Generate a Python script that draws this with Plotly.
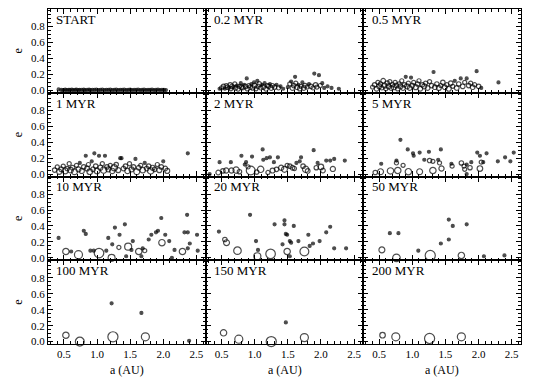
import plotly.graph_objects as go
from plotly.subplots import make_subplots

# ---------------- data (a in AU, e, mass in Earth masses) ----------------
a_start = [0.42, 0.46, 0.49, 0.52, 0.54, 0.57, 0.59, 0.62, 0.64, 0.67, 0.69, 0.72, 0.74, 0.77, 0.80,
           0.82, 0.85, 0.88, 0.90, 0.93, 0.96, 0.99, 1.02, 1.05, 1.08, 1.11, 1.14, 1.17, 1.20, 1.23,
           1.26, 1.29, 1.32, 1.35, 1.38, 1.41, 1.44, 1.47, 1.50, 1.53, 1.56, 1.59, 1.62, 1.65, 1.68,
           1.71, 1.74, 1.77, 1.80, 1.83, 1.86, 1.89, 1.92, 1.95, 1.98, 2.01, 2.04]
e_start = [0.012, 0.006, 0.004, 0.008, 0.003, 0.007, 0.005, 0.009, 0.004, 0.006, 0.008, 0.003, 0.007, 0.005, 0.009,
           0.004, 0.006, 0.008, 0.003, 0.007, 0.005, 0.009, 0.004, 0.006, 0.008, 0.003, 0.007, 0.005, 0.009, 0.004,
           0.006, 0.008, 0.003, 0.007, 0.005, 0.009, 0.004, 0.006, 0.008, 0.003, 0.007, 0.005, 0.009, 0.004, 0.006,
           0.008, 0.003, 0.007, 0.005, 0.009, 0.004, 0.006, 0.008, 0.003, 0.007, 0.005, 0.004]
m_start = [0.03] * len(a_start)

a_02 = [0.47, 0.50, 0.53, 0.55, 0.57, 0.59, 0.61, 0.63, 0.64, 0.66, 0.68, 0.70, 0.71, 0.73, 0.75, 0.77,
        0.79, 0.80, 0.82, 0.84, 0.86, 0.88, 0.89, 0.91, 0.93, 0.95, 0.97, 0.99, 1.00, 1.02, 1.04, 1.05,
        1.07, 1.09, 1.11, 1.13, 1.15, 1.17, 1.19, 1.21, 1.23, 1.25, 1.27, 1.30, 1.33, 1.36, 1.39, 1.43,
        1.50, 1.53, 1.55, 1.57, 1.59, 1.61, 1.62, 1.64, 1.66, 1.68, 1.70, 1.72, 1.74, 1.76, 1.79, 1.82,
        1.85, 1.88, 1.90, 1.92, 1.94, 1.97, 1.99, 2.02, 2.05, 2.10, 2.16, 2.27]
e_02 = [0.02, 0.03, 0.05, 0.02, 0.06, 0.04, 0.03, 0.07, 0.02, 0.05, 0.04, 0.08, 0.03, 0.06, 0.02, 0.05,
        0.09, 0.04, 0.03, 0.07, 0.05, 0.15, 0.02, 0.06, 0.04, 0.08, 0.03, 0.10, 0.06, 0.02, 0.12, 0.05,
        0.08, 0.03, 0.07, 0.04, 0.09, 0.02, 0.06, 0.05, 0.08, 0.03, 0.06, 0.04, 0.07, 0.03, 0.05, 0.02,
        0.04, 0.08, 0.11, 0.03, 0.06, 0.17, 0.09, 0.04, 0.07, 0.02, 0.05, 0.10, 0.03, 0.06, 0.04, 0.08,
        0.05, 0.03, 0.21, 0.07, 0.04, 0.19, 0.06, 0.09, 0.03, 0.05, 0.03, 0.02]
m_02 = [0.03, 0.04, 0.05, 0.03, 0.04, 0.06, 0.03, 0.05, 0.04, 0.06, 0.03, 0.04, 0.05, 0.03, 0.06, 0.04,
        0.03, 0.05, 0.04, 0.03, 0.06, 0.02, 0.05, 0.04, 0.06, 0.03, 0.05, 0.03, 0.06, 0.04, 0.03, 0.05,
        0.06, 0.04, 0.03, 0.05, 0.03, 0.06, 0.04, 0.05, 0.03, 0.06, 0.04, 0.05, 0.03, 0.04, 0.03, 0.02,
        0.03, 0.04, 0.03, 0.06, 0.05, 0.03, 0.04, 0.06, 0.03, 0.05, 0.04, 0.03, 0.06, 0.05, 0.04, 0.03,
        0.05, 0.04, 0.02, 0.05, 0.04, 0.03, 0.04, 0.03, 0.02, 0.02, 0.02, 0.02]

a_05 = [0.40, 0.43, 0.46, 0.48, 0.50, 0.52, 0.54, 0.56, 0.58, 0.60, 0.62, 0.64, 0.66, 0.68, 0.70, 0.72,
        0.74, 0.76, 0.78, 0.80, 0.82, 0.84, 0.86, 0.88, 0.90, 0.92, 0.94, 0.96, 0.98, 1.00, 1.02, 1.05,
        1.08, 1.10, 1.12, 1.15, 1.18, 1.20, 1.23, 1.26, 1.29, 1.32, 1.34, 1.37, 1.40, 1.43, 1.46, 1.49,
        1.52, 1.55, 1.58, 1.61, 1.64, 1.67, 1.70, 1.73, 1.76, 1.79, 1.82, 1.85, 1.88, 1.91, 1.94, 1.97,
        2.00, 2.04, 2.30]
e_05 = [0.04, 0.07, 0.02, 0.10, 0.05, 0.08, 0.03, 0.12, 0.06, 0.02, 0.09, 0.05, 0.11, 0.03, 0.07, 0.04,
        0.10, 0.06, 0.02, 0.08, 0.05, 0.12, 0.03, 0.07, 0.17, 0.05, 0.09, 0.03, 0.16, 0.06, 0.10, 0.04,
        0.08, 0.12, 0.02, 0.07, 0.05, 0.09, 0.03, 0.11, 0.06, 0.23, 0.04, 0.08, 0.03, 0.06, 0.10, 0.04,
        0.07, 0.02, 0.09, 0.05, 0.12, 0.03, 0.08, 0.15, 0.05, 0.10, 0.15, 0.06, 0.09, 0.04, 0.07, 0.24,
        0.05, 0.03, 0.10]
m_05 = [0.04, 0.05, 0.06, 0.04, 0.07, 0.05, 0.04, 0.06, 0.08, 0.04, 0.05, 0.07, 0.04, 0.06, 0.05, 0.08,
        0.04, 0.06, 0.05, 0.04, 0.07, 0.04, 0.06, 0.05, 0.03, 0.07, 0.04, 0.06, 0.03, 0.05, 0.04, 0.07,
        0.05, 0.04, 0.06, 0.05, 0.07, 0.04, 0.06, 0.04, 0.05, 0.03, 0.06, 0.05, 0.07, 0.04, 0.05, 0.06,
        0.04, 0.07, 0.05, 0.04, 0.03, 0.06, 0.05, 0.03, 0.06, 0.04, 0.03, 0.05, 0.04, 0.06, 0.04, 0.03,
        0.05, 0.03, 0.02]

a_1 = [0.36, 0.40, 0.43, 0.46, 0.49, 0.52, 0.55, 0.58, 0.60, 0.63, 0.66, 0.69, 0.72, 0.74, 0.77, 0.80,
       0.83, 0.85, 0.87, 0.89, 0.92, 0.94, 0.96, 0.98, 1.00, 1.03, 1.05, 1.08, 1.10, 1.12, 1.15, 1.17,
       1.20, 1.23, 1.26, 1.29, 1.32, 1.35, 1.37, 1.40, 1.43, 1.46, 1.49, 1.52, 1.55, 1.58, 1.60, 1.63,
       1.66, 1.69, 1.72, 1.75, 1.78, 1.81, 1.84, 1.87, 1.91, 1.94, 1.97, 2.00, 2.03, 2.06, 2.37]
e_1 = [0.05, 0.09, 0.03, 0.06, 0.10, 0.04, 0.07, 0.13, 0.05, 0.08, 0.03, 0.11, 0.06, 0.14, 0.04, 0.09,
       0.23, 0.07, 0.12, 0.03, 0.16, 0.06, 0.26, 0.10, 0.04, 0.23, 0.08, 0.13, 0.05, 0.23, 0.09, 0.06,
       0.11, 0.04, 0.08, 0.12, 0.05, 0.20, 0.20, 0.07, 0.10, 0.04, 0.13, 0.06, 0.09, 0.19, 0.03, 0.08,
       0.11, 0.05, 0.14, 0.07, 0.10, 0.04, 0.08, 0.06, 0.12, 0.05, 0.09, 0.16, 0.07, 0.04, 0.26]
m_1 = [0.05, 0.04, 0.08, 0.06, 0.04, 0.12, 0.05, 0.04, 0.10, 0.06, 0.12, 0.04, 0.07, 0.03, 0.08, 0.05,
       0.03, 0.07, 0.04, 0.10, 0.03, 0.06, 0.03, 0.05, 0.12, 0.03, 0.08, 0.04, 0.15, 0.03, 0.05, 0.07,
       0.04, 0.09, 0.15, 0.05, 0.08, 0.03, 0.03, 0.06, 0.05, 0.09, 0.04, 0.07, 0.05, 0.03, 0.12, 0.06,
       0.04, 0.10, 0.03, 0.06, 0.05, 0.15, 0.07, 0.05, 0.04, 0.08, 0.05, 0.03, 0.06, 0.07, 0.02]

a_2 = [0.32, 0.45, 0.47, 0.52, 0.57, 0.64, 0.65, 0.72, 0.77, 0.80, 0.85, 0.87, 0.90, 0.94, 0.96, 1.03,
       1.09, 1.12, 1.13, 1.18, 1.23, 1.29, 1.35, 1.20, 1.27, 1.33, 1.40, 1.45, 1.49, 1.53, 1.57, 1.60,
       1.63, 1.68, 1.70, 1.73, 1.77, 1.80, 1.89, 1.93, 1.95, 2.00, 2.03, 2.08, 2.14, 2.18, 2.20, 2.36]
e_2 = [0.00, 0.02, 0.15, 0.04, 0.045, 0.15, 0.045, 0.05, 0.03, 0.23, 0.12, 0.15, 0.09, 0.045, 0.22, 0.025,
       0.06, 0.31, 0.18, 0.20, 0.21, 0.15, 0.21, 0.02, 0.045, 0.06, 0.08, 0.06, 0.11, 0.10, 0.08, 0.07,
       0.14, 0.16, 0.21, 0.10, 0.06, 0.04, 0.30, 0.08, 0.14, 0.09, 0.045, 0.17, 0.17, 0.065, 0.19, 0.17]
m_2 = [0.02, 0.06, 0.02, 0.05, 0.08, 0.02, 0.08, 0.15, 0.05, 0.02, 0.03, 0.03, 0.04, 0.40, 0.02, 0.05,
       0.15, 0.02, 0.03, 0.03, 0.02, 0.03, 0.02, 0.04, 0.07, 0.05, 0.08, 0.12, 0.04, 0.05, 0.06, 0.04,
       0.03, 0.03, 0.02, 0.05, 0.15, 0.06, 0.02, 0.05, 0.03, 0.10, 0.06, 0.02, 0.02, 0.08, 0.02, 0.02]

a_5 = [0.82, 0.93, 1.01, 1.02, 1.11, 1.25, 1.43, 0.53, 0.76, 0.76, 0.86, 1.18, 1.26, 1.31, 1.39, 1.41,
       1.59, 1.60, 1.74, 1.78, 1.82, 1.87, 1.89, 1.79, 1.98, 2.12, 2.02, 2.04, 2.07, 2.29, 2.40, 2.48,
       2.53, 0.44, 0.52, 0.67, 0.78, 0.94, 1.11, 1.31, 1.44, 2.02, 1.82]
e_5 = [0.43, 0.31, 0.26, 0.23, 0.27, 0.28, 0.31, 0.13, 0.17, 0.14, 0.11, 0.18, 0.17, 0.16, 0.18, 0.14,
       0.13, 0.10, 0.14, 0.10, 0.12, 0.08, 0.15, 0.06, 0.27, 0.26, 0.23, 0.15, 0.15, 0.16, 0.21, 0.16,
       0.27, 0.02, 0.03, 0.04, 0.045, 0.03, 0.03, 0.045, 0.07, 0.07, 0.00]
m_5 = [0.02, 0.02, 0.02, 0.03, 0.02, 0.02, 0.02, 0.03, 0.03, 0.04, 0.04, 0.03, 0.05, 0.04, 0.03, 0.04,
       0.03, 0.04, 0.05, 0.04, 0.03, 0.05, 0.03, 0.04, 0.02, 0.02, 0.03, 0.04, 0.03, 0.02, 0.02, 0.02,
       0.02, 0.05, 0.12, 0.15, 0.15, 0.15, 0.12, 0.15, 0.08, 0.10, 0.02]

a_10 = [0.42, 0.80, 0.83, 0.53, 0.61, 0.72, 0.90, 0.95, 1.03, 1.14, 1.17, 1.22, 1.27, 1.34, 1.23, 1.33,
        1.42, 1.47, 1.44, 1.52, 1.54, 1.63, 1.69, 1.72, 1.67, 1.78, 1.82, 1.89, 1.92, 1.97, 1.98, 2.03,
        2.09, 2.17, 2.13, 2.29, 2.32, 2.37, 2.36, 2.40, 2.37, 2.51, 2.52]
e_10 = [0.25, 0.34, 0.30, 0.08, 0.08, 0.04, 0.09, 0.09, 0.06, 0.09, 0.25, 0.00, 0.38, 0.29, 0.17, 0.13,
        0.42, 0.14, 0.02, 0.10, 0.21, 0.08, 0.12, 0.09, 0.02, 0.23, 0.29, 0.32, 0.34, 0.50, 0.19, 0.29,
        0.21, 0.10, 0.00, 0.08, 0.32, 0.32, 0.54, 0.18, 0.12, 0.29, 0.09]
m_10 = [0.03, 0.03, 0.03, 0.15, 0.02, 0.30, 0.02, 0.02, 0.50, 0.02, 0.02, 0.20, 0.02, 0.03, 0.03, 0.04,
        0.02, 0.20, 0.02, 0.03, 0.02, 0.15, 0.03, 0.04, 0.02, 0.02, 0.03, 0.03, 0.02, 0.03, 0.15, 0.02,
        0.03, 0.02, 0.02, 0.15, 0.02, 0.02, 0.03, 0.02, 0.02, 0.03, 0.02]

a_20 = [0.46, 0.55, 0.575, 0.74, 0.93, 1.02, 1.04, 1.05, 1.24, 1.30, 1.45, 1.45, 1.47, 1.49, 1.42, 1.49,
        1.53, 1.55, 1.59, 1.66, 1.75, 1.81, 1.83, 1.88, 1.98, 2.08, 2.14, 2.20, 2.38, 1.53]
e_20 = [0.33, 0.23, 0.19, 0.09, 0.54, 0.21, 0.02, 0.10, 0.05, 0.42, 0.47, 0.42, 0.30, 0.29, 0.17, 0.08,
        0.21, 0.19, 0.40, 0.21, 0.08, 0.29, 0.15, 0.18, 0.21, 0.32, 0.39, 0.12, 0.12, 0.02]
m_20 = [0.02, 0.05, 0.12, 0.25, 0.02, 0.02, 0.20, 0.02, 0.50, 0.02, 0.02, 0.02, 0.03, 0.02, 0.03, 0.15,
        0.03, 0.02, 0.02, 0.02, 0.40, 0.02, 0.02, 0.02, 0.02, 0.02, 0.02, 0.02, 0.02, 0.02]

a_50 = [0.54, 0.66, 0.79, 0.76, 1.09, 1.27, 1.43, 1.55, 1.55, 1.61, 1.74, 1.82, 2.08, 2.39]
e_50 = [0.10, 0.31, 0.31, 0.00, 0.09, 0.03, 0.18, 0.48, 0.23, 0.40, 0.03, 0.42, 0.02, 0.03]
m_50 = [0.12, 0.02, 0.02, 0.25, 0.02, 0.60, 0.02, 0.02, 0.02, 0.02, 0.15, 0.02, 0.03, 0.02]

a_100 = [0.53, 0.74, 1.22, 1.24, 1.67, 1.73, 2.39]
e_100 = [0.08, 0.00, 0.48, 0.06, 0.36, 0.06, 0.01]
m_100 = [0.15, 0.40, 0.02, 0.60, 0.02, 0.30, 0.02]

a_150 = [0.53, 0.76, 1.25, 1.47, 1.75]
e_150 = [0.11, 0.03, 0.00, 0.24, 0.05]
m_150 = [0.15, 0.30, 0.60, 0.02, 0.30]

a_200 = [0.55, 0.75, 1.26, 1.74]
e_200 = [0.08, 0.06, 0.04, 0.06]
m_200 = [0.10, 0.30, 0.60, 0.30]

labels = ["START", "0.2 MYR", "0.5 MYR", "1 MYR", "2 MYR", "5 MYR",
          "10 MYR", "20 MYR", "50 MYR", "100 MYR", "150 MYR", "200 MYR"]
x_ticks = [0.5, 1.0, 1.5, 2.0, 2.5]
y_ticks = [0.0, 0.2, 0.4, 0.6, 0.8]

panels = [(a_start, e_start, m_start), (a_02, e_02, m_02), (a_05, e_05, m_05),
          (a_1, e_1, m_1), (a_2, e_2, m_2), (a_5, e_5, m_5),
          (a_10, e_10, m_10), (a_20, e_20, m_20), (a_50, e_50, m_50),
          (a_100, e_100, m_100), (a_150, e_150, m_150), (a_200, e_200, m_200)]

FONT = "Liberation Serif, Times New Roman, serif"

fig = make_subplots(rows=4, cols=3, horizontal_spacing=0, vertical_spacing=0)

for i, (a, e, m) in enumerate(panels):
    r, c = i // 3 + 1, i % 3 + 1
    sizes = [3.0 if mm <= 0.03 else 12.0 * mm ** (1.0 / 3.0) for mm in m]
    symbols = ["circle" if mm <= 0.03 else "circle-open" for mm in m]
    fig.add_trace(go.Scatter(
        x=a, y=e, mode="markers", showlegend=False, hoverinfo="skip", cliponaxis=False,
        marker=dict(symbol=symbols, size=sizes, color="black",
                    line=dict(color="black", width=1.2))),
        row=r, col=c)
    fig.update_xaxes(row=r, col=c, range=[0.26, 2.64], tickvals=x_ticks,
                     ticktext=[f"{v:.1f}" for v in x_ticks],
                     showticklabels=(r == 4), automargin=False,
                     ticks="inside", ticklen=5, tickwidth=1, tickcolor="black",
                     minor=dict(ticks="inside", dtick=0.1, tick0=0, ticklen=2.5,
                                tickcolor="black", tickwidth=1),
                     showline=True, linecolor="black", linewidth=1.3, mirror="allticks",
                     showgrid=False, zeroline=False,
                     tickfont=dict(family=FONT, size=11, color="black"))
    fig.update_yaxes(row=r, col=c, range=[-0.03, 1.02], tickvals=y_ticks,
                     ticktext=[f"{v:.1f}" for v in y_ticks],
                     showticklabels=(c == 1), automargin=False,
                     title=dict(text="e" if c == 1 else "", standoff=5,
                                font=dict(family=FONT, size=12, color="black")),
                     ticks="inside", ticklen=5, tickwidth=1, tickcolor="black",
                     minor=dict(ticks="inside", dtick=0.05, tick0=0, ticklen=2.5,
                                tickcolor="black", tickwidth=1),
                     showline=True, linecolor="black", linewidth=1.3, mirror="allticks",
                     showgrid=False, zeroline=False,
                     tickfont=dict(family=FONT, size=11, color="black"))
    idx = "" if i == 0 else str(i + 1)
    fig.add_annotation(text=labels[i], xref=f"x{idx} domain", yref=f"y{idx} domain",
                       x=0.04, y=0.99, xanchor="left", yanchor="top", showarrow=False,
                       font=dict(family=FONT, size=13, color="black"))
    if r == 4:
        fig.add_annotation(text="a (AU)", xref=f"x{idx} domain", yref="paper",
                           x=0.5, y=-0.078, xanchor="center", yanchor="middle",
                           showarrow=False, font=dict(family=FONT, size=12, color="black"))

# the page body adds an 8 px offset, so the figure is 8 px smaller each way
fig.update_layout(width=532, height=376, margin=dict(l=40, r=19, t=1, b=40, autoexpand=False),
                  paper_bgcolor="white", plot_bgcolor="white",
                  font=dict(family=FONT, color="black"))

fig.write_html("out.html")
